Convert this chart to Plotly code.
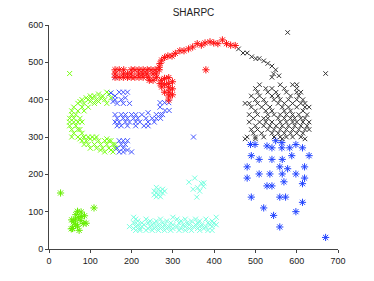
import plotly.graph_objects as go

# ---- data ----
red_star_x = [267,269,273,280,288,298,306,317,327,338,348,359,369,378,390,399,409,420,430,440,451,
              160,170,181,199,208,218,228,238,247,257,267,
              160,180,190,199,217,227,237,252,260,
              160,170,180,190,199,208,218,228,240,
              243,252,
              260,272,280,290,269,280,290,299,273,290,299,280,291,290,299,290,
              380]
red_star_y = [487,497,506,513,517,517,524,531,531,536,541,550,546,552,555,552,550,560,550,546,545,
              480,480,480,480,480,480,480,480,480,480,480,
              469,469,469,469,469,469,469,469,469,
              460,460,460,460,460,460,460,460,460,
              452,452,
              459,452,457,459,443,441,443,448,434,432,429,420,420,410,413,399,
              480]

black_x_x = [459,470,480,491,501,509,520,530,540,549,544,557,540,578,670,
             510,560,590,600,
             500,525,540,570,600,
             505,530,550,575,600,610,
             490,510,540,555,585,605,
             500,520,545,560,580,600,615,
             475,485,505,525,555,570,590,610,620,
             490,515,535,565,580,600,620,630,
             500,525,540,570,585,615,
             485,505,530,545,560,575,590,605,625,
             495,520,530,555,570,585,595,610,620,
             485,510,525,540,560,575,590,600,615,630,
             500,520,535,550,565,580,595,610,625,
             490,505,530,545,560,575,590,605,620,630,
             495,515,540,555,570,585,600,615,
             480,500,520,545,560,575,590,610,
             475,500,565,620]
black_x_y = [536,525,525,515,510,510,504,497,490,480,469,464,460,580,470,
             440,440,440,440,
             430,430,430,430,430,
             420,420,420,420,420,420,
             410,410,410,410,410,410,
             400,400,400,400,400,400,400,
             390,390,390,390,390,390,390,390,390,
             380,380,380,380,380,380,380,380,
             370,370,370,370,370,370,
             360,360,360,360,360,360,360,360,360,
             350,350,350,350,350,350,350,350,350,
             340,340,340,340,340,340,340,340,340,340,
             330,330,330,330,330,330,330,330,330,
             320,320,320,320,320,320,320,320,320,320,
             310,310,310,310,310,310,310,310,
             300,300,300,300,300,300,300,300,
             295,295,295,295]

blue_x_x = [150,160,170,180,190,160,175,185,195,165,180,155,160,
            269,280,290,269,281,291,
            160,175,185,200,210,225,240,260,270,275,
            165,180,190,205,215,235,250,260,270,
            160,170,185,195,210,220,240,255,
            165,175,190,210,230,240,
            170,180,190,175,185,165,180,190,170,200,180,
            350]
blue_x_y = [418,410,420,420,420,400,400,405,390,390,390,395,460,
            392,392,392,380,371,371,
            360,360,360,360,360,360,365,360,360,360,
            350,350,350,350,350,350,350,350,350,
            340,340,340,340,340,340,340,340,
            330,330,330,330,330,330,
            290,290,290,280,280,270,270,265,260,260,260,
            300]

blue_star_x = [488,499,528,540,549,564,564,583,598,614,
               490,509,540,565,588,630,
               480,559,578,619,
               480,509,535,565,598,619,614,
               528,540,569,
               490,559,573,
               614,520,544,598,559,670]
blue_star_y = [280,280,276,271,290,285,271,271,280,271,
               250,240,240,240,250,250,
               220,220,215,220,
               190,201,201,201,201,190,175,
               169,169,180,
               139,139,139,
               125,110,90,100,59,31]

green_x_x = [140,120,145,100,110,130,90,105,125,150,80,95,115,135,75,100,120,70,85,110,140,
             60,80,95,55,70,85,55,65,50,60,75,50,60,70,80,50,65,55,70,75,60,80,
             55,70,85,95,105,115,75,100,110,140,80,90,120,135,145,150,
             85,95,110,125,140,155,160,100,115,130,145,160,125,150,135,155,
             50]
green_x_y = [420,415,415,410,410,410,405,405,405,405,400,400,400,400,395,395,395,390,390,390,390,
             380,380,380,370,370,370,360,360,350,350,350,340,340,340,340,330,330,320,320,320,310,310,
             300,300,300,300,300,300,295,295,295,295,290,290,290,290,290,290,
             280,280,280,280,280,280,280,270,270,270,270,270,265,265,260,260,
             470]

green_star_x = [28,109,55,65,69,78,71,86,90,83,64,57,54,73,69,77,59,78,64]
green_star_y = [150,110,78,92,101,99,85,89,69,68,66,55,54,50,61,76,73,87,80]

cyan_x_x = [205,300,405,
            210,235,270,310,330,355,380,
            215,245,260,285,320,345,365,395,
            205,225,240,255,275,295,315,335,360,385,400,
            215,230,250,265,280,300,325,340,355,370,390,405,
            195,210,225,245,260,275,290,310,330,350,365,380,395,
            205,220,240,255,270,285,300,320,340,360,375,
            210,220,235,250,265,280,295,315,330,345,365,385,395,
            260,265,255,270,275,260,280,265,255,270,275,260,
            339,353,369,374,349,360,358,365,375]
cyan_x_y = [85,85,85,
            80,80,80,80,80,80,80,
            75,75,75,75,75,75,75,75,
            70,70,70,70,70,70,70,70,70,70,70,
            65,65,65,65,65,65,65,65,65,65,65,65,
            60,60,60,60,60,60,60,60,60,60,60,60,60,
            55,55,55,55,55,55,55,55,55,55,55,
            50,50,50,50,50,50,50,50,50,50,50,50,50,
            165,160,155,155,150,150,155,145,145,140,160,140,
            179,190,176,168,160,164,139,155,177]

x_ticks = [0, 100, 200, 300, 400, 500, 600, 700]
y_ticks = [0, 100, 200, 300, 400, 500, 600]

fig = go.Figure()

def add(xs, ys, color, symbol, size):
    fig.add_trace(go.Scatter(
        x=xs, y=ys, mode="markers",
        marker=dict(symbol=symbol, size=size, color=color,
                    line=dict(color=color, width=1)),
        showlegend=False, hoverinfo="skip"))

add(cyan_x_x, cyan_x_y, "#77ffe0", "x-thin-open", 5)
add(green_x_x, green_x_y, "#77ff11", "x-thin-open", 5)
add(green_star_x, green_star_y, "#66ee00", "asterisk-open", 6)
add(blue_x_x, blue_x_y, "#4455ff", "x-thin-open", 5)
add(blue_star_x, blue_star_y, "#2244ff", "asterisk-open", 6)
add(black_x_x, black_x_y, "#333333", "x-thin-open", 4.5)
add(red_star_x, red_star_y, "#ff1111", "asterisk-open", 6)

axis_common = dict(
    showgrid=False, zeroline=False, showline=True, linecolor="#444444", linewidth=1,
    ticks="outside", ticklen=3, tickcolor="#444444",
    tickfont=dict(family="Liberation Sans, Arial, sans-serif", size=9, color="#222222"),
)

# page body has an 8px margin, so the figure is sized/offset to compensate
W, H = 366, 273
fig.update_layout(
    width=W, height=H,
    margin=dict(l=41, r=36, t=13, b=32),
    paper_bgcolor="white", plot_bgcolor="white",
    title=dict(text="SHARPC", x=(41 + 330) / 2 / W, xanchor="center", y=1 - 4 / H, yanchor="middle",
               font=dict(family="Liberation Sans, Arial, sans-serif", size=10, color="#222222")),
    xaxis=dict(range=[0, 700], tickvals=x_ticks, **axis_common),
    yaxis=dict(range=[0, 600], tickvals=y_ticks, **axis_common),
)

fig.write_html("out.html")
